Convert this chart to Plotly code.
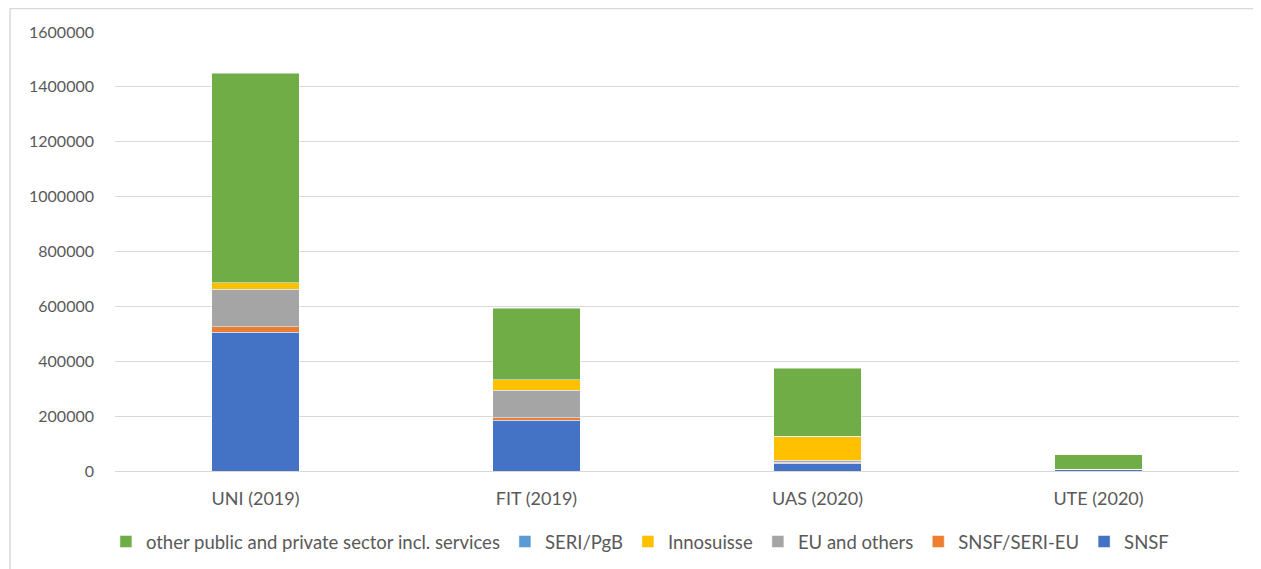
import plotly.graph_objects as go

categories = ["UNI (2019)", "FIT (2019)", "UAS (2020)", "UTE (2020)"]
snsf = [505000, 185000, 28000, 4000]
snsf_seri_eu = [20000, 10000, 3000, 500]
eu_others = [137000, 100000, 9000, 500]
innosuisse = [25000, 37000, 85000, 500]
seri_pgb = [0, 0, 2000, 0]
other = [762000, 261000, 248000, 54000]

series = [
    ("SNSF", snsf, "#4472C4"),
    ("SNSF/SERI-EU", snsf_seri_eu, "#ED7D31"),
    ("EU and others", eu_others, "#A5A5A5"),
    ("Innosuisse", innosuisse, "#FFC000"),
    ("SERI/PgB", seri_pgb, "#5B9BD5"),
    ("other public and private sector incl. services", other, "#70AD47"),
]

fig = go.Figure()
for name, vals, col in series:
    fig.add_trace(go.Bar(
        x=categories, y=vals, name=name,
        marker=dict(color=col, line=dict(color="rgba(255,255,255,0.6)", width=0.8)),
    ))

font = "Lato, Liberation Sans, Arial, sans-serif"
fig.update_layout(
    barmode="stack",
    bargap=0.687,
    width=1261, height=569,
    margin=dict(l=107, r=30, t=24, b=106),
    paper_bgcolor="white", plot_bgcolor="white",
    font=dict(family=font, size=16, color="#595959"),
    showlegend=True,
    legend=dict(
        orientation="h", traceorder="reversed",
        x=0.467, xanchor="center", y=-0.1617, yanchor="middle",
        font=dict(family=font, size=18.5, color="#595959"),
        itemwidth=30,
    ),
    yaxis=dict(
        range=[0, 1600000], dtick=200000, tickformat="d",
        showgrid=True, gridcolor="#D9D9D9", gridwidth=1,
        zeroline=True, zerolinecolor="#D9D9D9", zerolinewidth=1,
        showline=False, ticks="", ticklabelstandoff=20,
        tickfont=dict(family=font, size=16, color="#595959"),
    ),
    xaxis=dict(
        showgrid=False, showline=False, ticks="",
        ticklabelstandoff=15,
        tickfont=dict(family=font, size=18, color="#595959"),
    ),
    shapes=[
        dict(type="line", xref="paper", yref="paper",
             x0=-0.0934, x1=1.04, y0=1.0535, y1=1.0535,
             line=dict(color="#D9D9D9", width=1.5)),
        dict(type="line", xref="paper", yref="paper",
             x0=-0.0934, x1=-0.0934, y0=1.0535, y1=-0.25,
             line=dict(color="#D9D9D9", width=1.5)),
    ],
)

fig.write_html("out.html")
